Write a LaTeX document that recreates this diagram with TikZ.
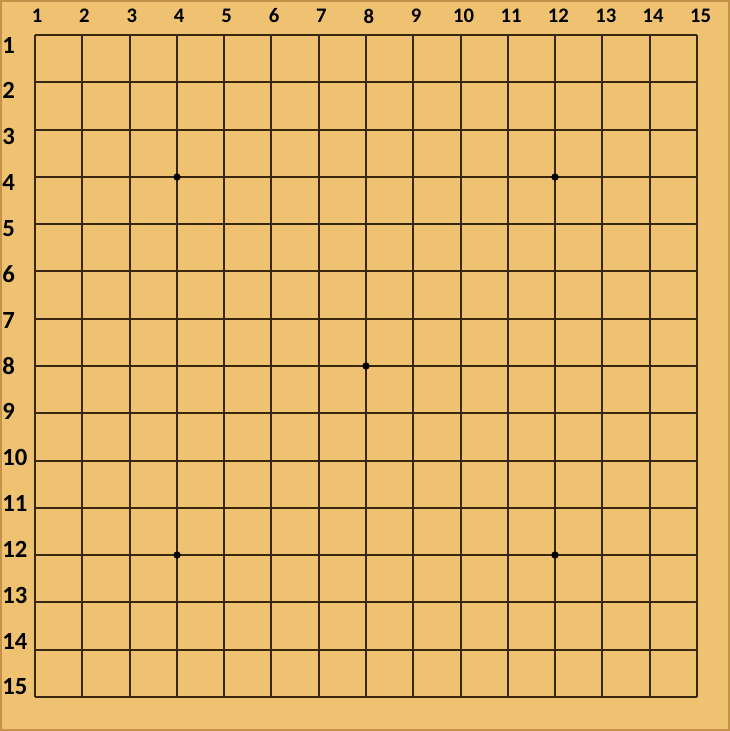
\documentclass[tikz,border=0pt]{standalone}
\usepackage{fontspec}
\setmainfont{Carlito}
\usetikzlibrary{positioning}
\definecolor{wood}{RGB}{238,194,112}
\definecolor{woodedge}{RGB}{196,146,72}
\definecolor{gridline}{RGB}{56,38,16}
\tikzset{
  gridl/.style={gridline,line width=1.5pt},
  star/.style={circle,fill=black,inner sep=0pt,minimum size=5.5pt},
  collab/.style={font=\bfseries\fontsize{15.5}{15.5}\selectfont},
  rowlab/.style={font=\bfseries\fontsize{18.5}{18.5}\selectfont,anchor=west,inner sep=0pt}
}
\begin{document}
\begin{tikzpicture}[x=0.75pt,y=-0.75pt]
\useasboundingbox (0,0) rectangle (730,731);
\fill[wood] (0,0) rectangle (730,731);
\draw[woodedge,line width=1.2pt] (0.8,0.8) rectangle (729.2,730.2);
% board lines
\foreach \i in {0,...,14} {
  \draw[gridl] ({35+47.29*\i},35) -- ({35+47.29*\i},697);
  \draw[gridl] (35,{35+47.29*\i}) -- (697,{35+47.29*\i});
}
% column numbers
\foreach \i in {1,...,15}
  \node[collab] (c\i) at ({37+47.4*(\i-1)},16) {\i};
% row numbers
\foreach \i in {1,...,15}
  \node[rowlab] (r\i) at (2,{45+45.86*(\i-1)}) {\i};
% star points
\node[star] (s1) at (177,177) {};
\node[star] (s2) at (555,177) {};
\node[star] (s3) at (366,366) {};
\node[star] (s4) at (177,555) {};
\node[star] (s5) at (555,555) {};
\end{tikzpicture}
\end{document}
